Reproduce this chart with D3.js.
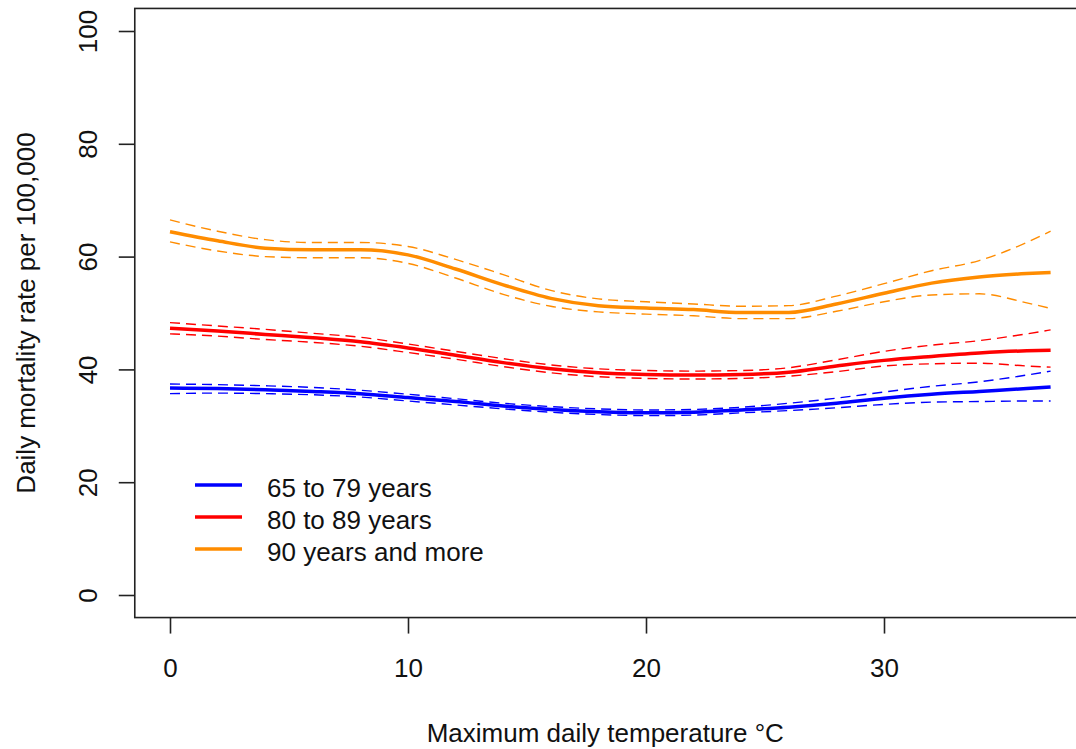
<!DOCTYPE html>
<html>
<head>
<meta charset="utf-8">
<script src="https://cdn.jsdelivr.net/npm/d3@7"></script>
<style>
  html, body { margin: 0; padding: 0; background: #fff; }
  svg { display: block; font-family: "Liberation Sans", Arial, sans-serif; }
</style>
</head>
<body>
<div id="chart"></div>
<script>
// temperatures (°C) at which the curves were read
const temps = [0, 2, 4, 6, 8, 10, 12, 14, 16, 18, 20, 22, 24, 26, 28, 30, 32, 34, 36, 37];

const ageGroups = ['65 to 79 years', '80 to 89 years', '90 years and more'];
const groupColors = ['#0000ff', '#ff0000', '#ff8c00'];

// 65 to 79
const blueFit = [36.7, 36.6, 36.4, 36.1, 35.7, 35.0, 34.3, 33.5, 32.9, 32.5, 32.3, 32.4, 32.8, 33.3, 34.0, 34.9, 35.6, 36.1, 36.6, 36.9];
const blueUpper = [37.4, 37.3, 37.1, 36.8, 36.3, 35.6, 34.8, 34.0, 33.4, 33.0, 32.8, 32.9, 33.3, 34.0, 34.9, 36.0, 37.0, 37.8, 39.0, 39.7];
const blueLower = [35.7, 35.8, 35.7, 35.5, 35.1, 34.4, 33.7, 33.0, 32.4, 32.0, 31.8, 31.9, 32.3, 32.7, 33.2, 33.8, 34.2, 34.3, 34.4, 34.4];

// 80 to 89
const redFit = [47.3, 46.8, 46.2, 45.6, 44.9, 43.8, 42.5, 41.2, 40.1, 39.4, 39.1, 39.0, 39.1, 39.5, 40.6, 41.6, 42.3, 42.9, 43.3, 43.4];
const redUpper = [48.3, 47.7, 47.1, 46.4, 45.7, 44.5, 43.2, 41.9, 40.8, 40.1, 39.8, 39.7, 39.8, 40.3, 41.7, 43.2, 44.3, 45.1, 46.3, 47.0];
const redLower = [46.3, 45.9, 45.3, 44.8, 44.1, 43.0, 41.8, 40.5, 39.4, 38.7, 38.4, 38.3, 38.4, 38.8, 39.6, 40.6, 41.0, 41.1, 40.6, 40.4];

// 90 and more
const orangeFit = [64.4, 62.8, 61.5, 61.2, 61.2, 60.3, 57.8, 55.0, 52.6, 51.3, 50.9, 50.6, 50.1, 50.1, 51.6, 53.5, 55.3, 56.4, 57.0, 57.2];
const orangeUpper = [66.5, 64.5, 63.0, 62.5, 62.5, 61.8, 59.5, 56.8, 54.0, 52.5, 52.0, 51.6, 51.2, 51.3, 53.0, 55.2, 57.5, 59.3, 62.5, 64.5];
const orangeLower = [62.6, 61.0, 60.0, 59.8, 59.8, 58.8, 56.2, 53.3, 51.2, 50.2, 49.8, 49.5, 49.0, 49.0, 50.3, 52.0, 53.2, 53.4, 51.8, 50.8];

const xTicks = [0, 10, 20, 30];
const yTicks = [0, 20, 40, 60, 80, 100];

const width = 1076, height = 749;

const svg = d3.select('#chart').append('svg')
  .attr('width', width)
  .attr('height', height);

// R-style scales: data range padded by 4%
const x = d3.scaleLinear().domain([0, 37]).range([170, 1050.6]);
const y = d3.scaleLinear().domain([0, 100]).range([595, 31]);
const xPad = 37 * 0.04, yPad = 100 * 0.04;
const boxLeft = x(-xPad), boxRight = x(37 + xPad);
const boxTop = y(100 + yPad), boxBottom = y(-yPad);

const series = [
  { fit: blueFit, upper: blueUpper, lower: blueLower },
  { fit: redFit, upper: redUpper, lower: redLower },
  { fit: orangeFit, upper: orangeUpper, lower: orangeLower }
];

const line = d3.line()
  .x(d => x(d[0]))
  .y(d => y(d[1]))
  .curve(d3.curveMonotoneX);

const curves = svg.append('g');
series.forEach((s, i) => {
  [s.upper, s.lower].forEach(band => {
    curves.append('path')
      .datum(temps.map((t, k) => [t, band[k]]))
      .attr('d', line)
      .attr('fill', 'none')
      .attr('stroke', groupColors[i])
      .attr('stroke-width', 1.4)
      .attr('stroke-dasharray', '10,6');
  });
  curves.append('path')
    .datum(temps.map((t, k) => [t, s.fit[k]]))
    .attr('d', line)
    .attr('fill', 'none')
    .attr('stroke', groupColors[i])
    .attr('stroke-width', 3.5);
});

// plot box
svg.append('rect')
  .attr('x', boxLeft)
  .attr('y', boxTop)
  .attr('width', boxRight - boxLeft)
  .attr('height', boxBottom - boxTop)
  .attr('fill', 'none')
  .attr('stroke', '#222')
  .attr('stroke-width', 1.6);

// x axis
const xAxis = svg.append('g')
  .attr('transform', `translate(0,${boxBottom})`)
  .call(d3.axisBottom(x).tickValues(xTicks).tickSize(16).tickSizeOuter(0).tickPadding(25));
xAxis.select('.domain').remove();
xAxis.selectAll('line').attr('stroke', '#222').attr('stroke-width', 1.6);
xAxis.selectAll('text')
  .attr('font-size', '26px')
  .attr('font-family', '"Liberation Sans", Arial, sans-serif')
  .attr('fill', '#111');

// y axis
const yAxis = svg.append('g')
  .attr('transform', `translate(${boxLeft},0)`)
  .call(d3.axisLeft(y).tickValues(yTicks).tickSize(16).tickSizeOuter(0).tickFormat(d => d));
yAxis.select('.domain').remove();
yAxis.selectAll('line').attr('stroke', '#222').attr('stroke-width', 1.6);
yAxis.selectAll('text')
  .attr('font-size', '26px')
  .attr('font-family', '"Liberation Sans", Arial, sans-serif')
  .attr('fill', '#111')
  .attr('text-anchor', 'middle')
  .attr('dy', null)
  .attr('x', null)
  .attr('transform', `translate(${97 - boxLeft},0) rotate(-90)`);

// axis titles
svg.append('text')
  .attr('x', (boxLeft + boxRight) / 2 - 5)
  .attr('y', 742)
  .attr('text-anchor', 'middle')
  .attr('font-size', '26px')
  .attr('fill', '#111')
  .text('Maximum daily temperature °C');

svg.append('text')
  .attr('transform', `translate(35,${(boxTop + boxBottom) / 2}) rotate(-90)`)
  .attr('text-anchor', 'middle')
  .attr('font-size', '26px')
  .attr('fill', '#111')
  .text('Daily mortality rate per 100,000');

// legend
const legend = svg.append('g');
const legendY = [485, 517, 549];
ageGroups.forEach((label, i) => {
  legend.append('line')
    .attr('x1', 195).attr('x2', 242)
    .attr('y1', legendY[i]).attr('y2', legendY[i])
    .attr('stroke', groupColors[i])
    .attr('stroke-width', 3.5);
  legend.append('text')
    .attr('x', 267)
    .attr('y', legendY[i] + 12)
    .attr('font-size', '26px')
    .attr('fill', '#111')
    .text(label);
});
</script>
</body>
</html>
